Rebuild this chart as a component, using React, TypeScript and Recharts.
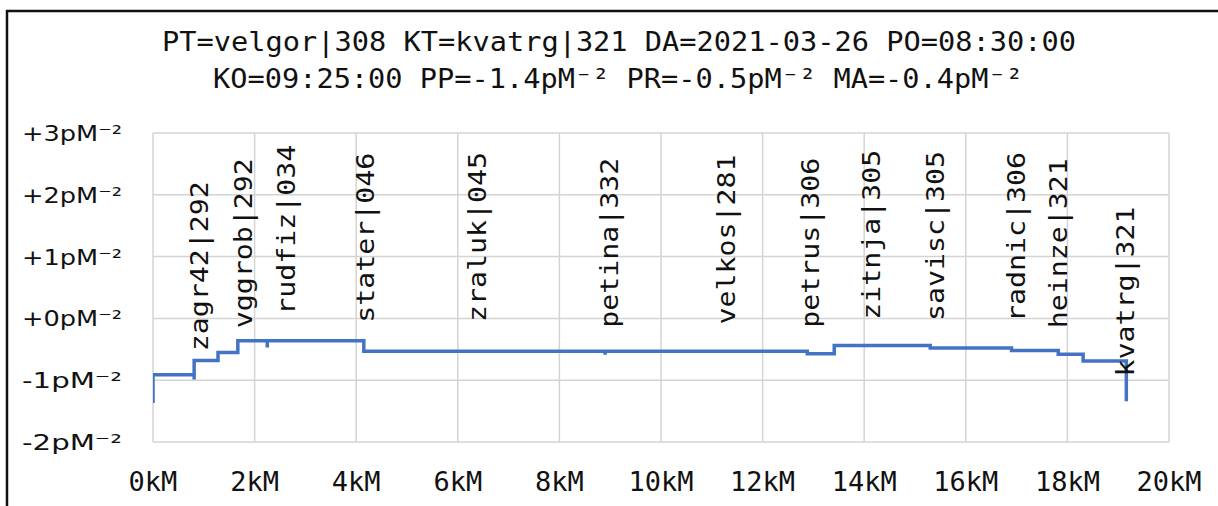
import { LineChart, Line, XAxis, YAxis, CartesianGrid } from "recharts";

// step profile along the route (km, pM^-2)
const profileKm = [0, 0, 0.81, 0.81, 1.28, 1.67, 2.25, 2.25, 4.15, 8.9, 8.9, 12.88, 13.41, 15.3, 16.9, 17.82, 18.31, 19.16];
const profileValue = [-1.37, -0.91, -0.99, -0.68, -0.55, -0.36, -0.47, -0.36, -0.53, -0.59, -0.53, -0.57, -0.44, -0.48, -0.52, -0.58, -0.69, -1.34];

// station labels
const stationNames = [
  "zagr42|292", "vggrob|292", "rudfiz|034", "stater|046", "zraluk|045", "petina|332", "velkos|281",
  "petrus|306", "zitnja|305", "savisc|305", "radnic|306", "heinze|321", "kvatrg|321",
];
const stationKm = [0.93, 1.79, 2.63, 4.2, 6.39, 8.99, 11.29, 12.96, 14.15, 15.42, 17.0, 17.83, 19.16];
const stationLabelAt = [-0.53, -0.16, 0.06, -0.07, -0.06, -0.15, -0.1, -0.15, -0.02, -0.04, -0.06, -0.16, -0.94];

const xTicks = [0, 2, 4, 6, 8, 10, 12, 14, 16, 18, 20];
const yTicks = [-2, -1, 0, 1, 2, 3];

const titleLines = [
  "PT=velgor|308 KT=kvatrg|321 DA=2021-03-26 PO=08:30:00",
  "KO=09:25:00 PP=-1.4pM⁻² PR=-0.5pM⁻² MA=-0.4pM⁻²",
];

const profile = profileKm.map((km, i) => ({ km, v: profileValue[i] }));
const stations = stationNames.map((name, i) => ({ km: stationKm[i], v: stationLabelAt[i], name }));

const MONO = "'DejaVu Sans Mono', 'Liberation Mono', monospace";

const fmtY = (v: number) => (v >= 0 ? "+" : "") + v + "pM⁻²";

function XTick(p: any) {
  return (
    <text x={p.x} y={p.y} textAnchor="middle" fontFamily={MONO} fontSize={27} fill="#111">
      {p.payload.value + "kM"}
    </text>
  );
}

function YTick(p: any) {
  return (
    <text
      x={p.x}
      y={p.y + 8}
      textAnchor="end"
      fontFamily="'DejaVu Sans', sans-serif"
      fontSize={21}
      textLength={100}
      lengthAdjust="spacingAndGlyphs"
      fill="#111"
    >
      {fmtY(p.payload.value)}
    </text>
  );
}

function StationLabel(p: any) {
  const { cx, cy, payload, index } = p;
  return (
    <text
      key={"st-" + index}
      x={cx}
      y={cy}
      transform={`rotate(-90, ${cx}, ${cy})`}
      textAnchor="start"
      dominantBaseline="central"
      fontFamily={MONO}
      fontSize={24}
      textLength={170}
      lengthAdjust="spacingAndGlyphs"
      fill="#111"
    >
      {payload.name}
    </text>
  );
}

export default function App() {
  return (
    <div style={{ position: "absolute", left: 0, top: 0, width: 1218, height: 506, background: "#fff" }}>
      <LineChart width={1218} height={506} margin={{ top: 133, right: 49, bottom: 4, left: 33 }}>
        <CartesianGrid stroke="#d4d4d4" strokeWidth={1.5} horizontalValues={yTicks} verticalValues={xTicks} />
        <XAxis
          type="number"
          dataKey="km"
          domain={[0, 20]}
          ticks={xTicks}
          interval={0}
          axisLine={false}
          tickLine={false}
          tickSize={0}
          tickMargin={49}
          height={60}
          tick={<XTick />}
          allowDataOverflow
        />
        <YAxis
          type="number"
          dataKey="v"
          domain={[-2, 3]}
          ticks={yTicks}
          interval={0}
          axisLine={false}
          tickLine={false}
          tickSize={0}
          tickMargin={31}
          width={120}
          tick={<YTick />}
          allowDataOverflow
        />
        <Line
          data={profile}
          dataKey="v"
          type="stepAfter"
          stroke="#4472C4"
          strokeWidth={3.5}
          dot={false}
          activeDot={false}
          isAnimationActive={false}
        />
        <Line
          data={stations}
          dataKey="v"
          stroke="none"
          dot={StationLabel}
          activeDot={false}
          isAnimationActive={false}
        />
      </LineChart>
      <svg
        width={1218}
        height={506}
        style={{ position: "absolute", left: 0, top: 0, pointerEvents: "none" }}
      >
        <line x1={6} y1={11} x2={1218} y2={11} stroke="#111" strokeWidth={2.5} />
        <line x1={7} y1={10} x2={7} y2={506} stroke="#111" strokeWidth={2.5} />
        <text x={619} y={51} textAnchor="middle" fontFamily={MONO} fontSize={26} textLength={914} lengthAdjust="spacingAndGlyphs" fill="#111">
          {titleLines[0]}
        </text>
        <text x={618} y={88} textAnchor="middle" fontFamily={MONO} fontSize={26} textLength={810} lengthAdjust="spacingAndGlyphs" fill="#111">
          {titleLines[1]}
        </text>
      </svg>
    </div>
  );
}
